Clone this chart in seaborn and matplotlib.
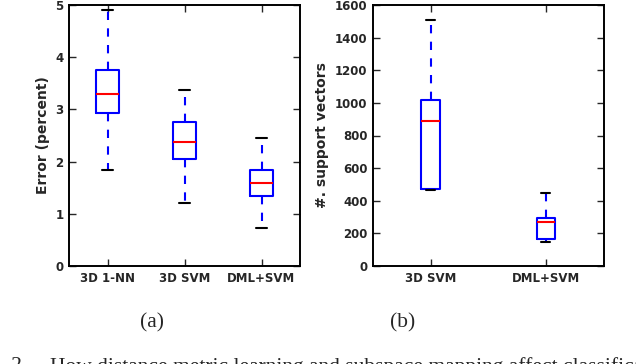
import matplotlib
matplotlib.use("Agg")
import matplotlib.pyplot as plt
import seaborn as sns
import pandas as pd

# ---- data ----
err_methods = ["3D 1-NN", "3D SVM", "DML+SVM"]
err_low = [1.83, 1.20, 0.72]
err_q1 = [2.93, 2.05, 1.34]
err_med = [3.30, 2.37, 1.59]
err_q3 = [3.76, 2.76, 1.84]
err_high = [4.90, 3.37, 2.45]

sv_methods = ["3D SVM", "DML+SVM"]
sv_low = [464, 147]
sv_q1 = [475, 164]
sv_med = [890, 270]
sv_q3 = [1015, 295]
sv_high = [1507, 448]

err_ticks = [0, 1, 2, 3, 4, 5]
sv_ticks = [0, 200, 400, 600, 800, 1000, 1200, 1400, 1600]


def to_frame(methods, *cols):
    rows = []
    for i, m in enumerate(methods):
        for c in cols:
            rows.append({"method": m, "value": c[i]})
    return pd.DataFrame(rows)


df_err = to_frame(err_methods, err_low, err_q1, err_med, err_q3, err_high)
df_sv = to_frame(sv_methods, sv_low, sv_q1, sv_med, sv_q3, sv_high)

sns.set_style("ticks")
plt.rcParams["font.family"] = ["DejaVu Sans"]
plt.rcParams["font.weight"] = "bold"
plt.rcParams["lines.scale_dashes"] = False

W, H = 636, 364
fig = plt.figure(figsize=(W / 100, H / 100), dpi=100)


def px_axes(left, right, top, bottom):
    return fig.add_axes([left / W, (H - bottom) / H, (right - left) / W, (bottom - top) / H])


ax1 = px_axes(69, 300, 5, 266)
ax2 = px_axes(373, 603.5, 5, 266)

common = dict(
    x="method", y="value", whis=(0, 100), showfliers=False, fill=False,
    linecolor="blue", linewidth=1.5,
    boxprops=dict(color="blue", linewidth=1.5),
    whiskerprops=dict(color="blue", linewidth=1.5, linestyle=(0, (6, 6))),
    capprops=dict(color="black", linewidth=1.5),
    medianprops=dict(color="red", linewidth=1.5),
)

sns.boxplot(data=df_err, order=err_methods, width=0.30, ax=ax1, **common)
sns.boxplot(data=df_sv, order=sv_methods, width=0.16, ax=ax2, **common)

for ax, ticks, ylabel in [(ax1, err_ticks, "Error (percent)"), (ax2, sv_ticks, "#. support vectors")]:
    ax.set_ylim(ticks[0], ticks[-1])
    ax.set_yticks(ticks)
    ax.set_xlabel("")
    ax.set_ylabel(ylabel, fontsize=10, fontweight="bold", labelpad=4)
    ax.tick_params(direction="in", top=True, right=True, length=5, width=1, labelsize=8.5, pad=4)
    for lab in ax.get_xticklabels() + ax.get_yticklabels():
        lab.set_fontweight("bold")
    for s in ax.spines.values():
        s.set_linewidth(1.4)
        s.set_color("black")

ax1.set_xlim(-0.5, 2.5)
ax2.set_xlim(-0.5, 1.5)

serif = ["Liberation Serif", "DejaVu Serif"]
fig.text(152 / W, 1 - 323 / H, "(a)", ha="center", va="center", fontsize=15.5, family=serif, fontweight="normal")
fig.text(403 / W, 1 - 323 / H, "(b)", ha="center", va="center", fontsize=15.5, family=serif, fontweight="normal")
fig.text(27 / W, 1 - 357 / H, "Fig. 2.", ha="right", va="top", fontsize=15.5, family=serif, fontweight="normal")
fig.text(50 / W, 1 - 357 / H, "How distance metric learning and subspace mapping affect classification",
         ha="left", va="top", fontsize=15.5, family=serif, fontweight="normal")

fig.savefig("out.png", dpi=100)
